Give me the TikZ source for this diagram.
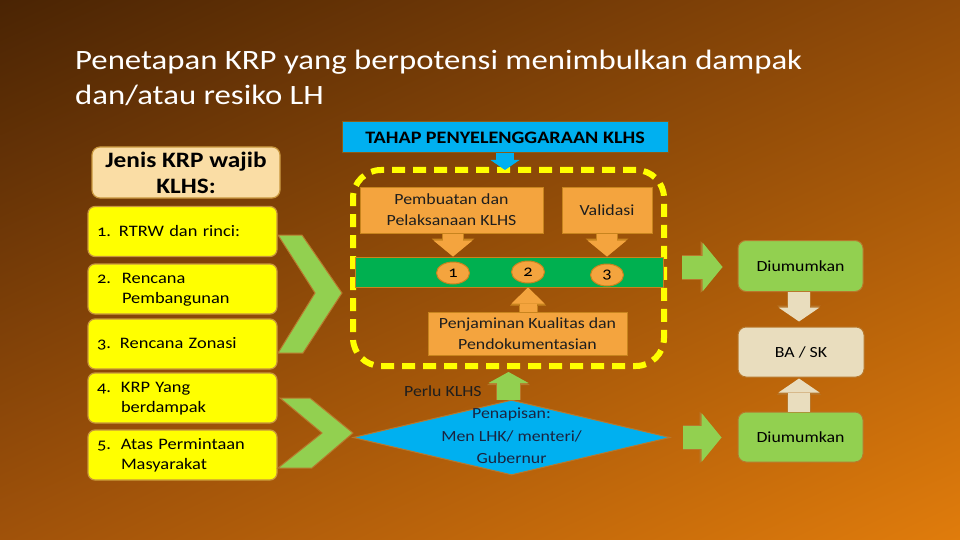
\documentclass[tikz,border=0pt]{standalone}
\usepackage{fontspec}
\setmainfont{Carlito}[FakeStretch=1.15, Numbers=OldStyle]
\newfontfamily\titlefont{Carlito}[FakeStretch=1.17]
\usetikzlibrary{arrows.meta,shapes.geometric,calc,shadings}
\definecolor{bgTL}{HTML}{4A2404}
\definecolor{bgTR}{HTML}{904A08}
\definecolor{bgBL}{HTML}{A0520A}
\definecolor{bgBR}{HTML}{E07C0C}
\definecolor{ylw}{HTML}{FFFF00}
\definecolor{ybord}{HTML}{C8963C}
\definecolor{chev}{HTML}{92D050}
\definecolor{chevb}{HTML}{B8782C}
\definecolor{orng}{HTML}{F4A43E}
\definecolor{orngb}{HTML}{C8841E}
\definecolor{band}{HTML}{00B050}
\definecolor{cyanb}{HTML}{00B0F0}
\definecolor{peach}{HTML}{FADDA5}
\definecolor{beige}{HTML}{E9DDBE}
\definecolor{txt}{HTML}{1E1E1E}
\definecolor{navy}{HTML}{1A2440}
\tikzset{
  ybox/.style={draw=ybord, fill=ylw, line width=1.2pt, rounded corners=7pt,
    minimum width=189pt, minimum height=50pt, text width=171pt, inner xsep=9pt,
    align=left, font=\fontsize{16}{20}\selectfont},
  obox/.style={draw=orngb, fill=orng, line width=1pt, text=txt,
    font=\fontsize{15.5}{21}\selectfont, align=center, inner sep=0pt},
  gbox/.style={draw=chevb, fill=chev, line width=1pt, rounded corners=8pt,
    minimum width=125pt, minimum height=51pt, text=black,
    font=\fontsize{15.5}{19}\selectfont},
  oell/.style={ellipse, draw=orngb, fill=orng, line width=1pt, minimum width=33pt,
    minimum height=22pt, inner sep=0pt, font=\fontsize{16}{18}\selectfont, text=black},
  chevshape/.style={fill=chev, draw=chevb, line width=1pt, line join=miter},
  orarrow/.style={preaction={draw=orngb, line width=22pt,
      -{Triangle[width=43pt,length=18pt,line width=0pt]}},
    draw=orng, line width=20pt, -{Triangle[width=39pt,length=16pt,line width=0pt]}},
  penarrow/.style={preaction={draw=orngb, line width=19pt,
      -{Triangle[width=36pt,length=18pt,line width=0pt]}},
    draw=orng, line width=17pt, -{Triangle[width=33pt,length=16pt,line width=0pt]}},
  blarrow/.style={draw=cyanb, line width=18pt,
    -{Triangle[width=29pt,length=10pt,line width=0pt]}},
  grarrow/.style={preaction={draw=chevb, line width=25pt,
      -{Triangle[width=52pt,length=22pt,line width=0pt]}},
    draw=chev, line width=23pt, -{Triangle[width=49pt,length=20pt,line width=0pt]}},
  upgarrow/.style={preaction={draw=chevb, line width=25pt,
      -{Triangle[width=43pt,length=13pt,line width=0pt]}},
    draw=chev, line width=23pt, -{Triangle[width=40pt,length=11pt,line width=0pt]}},
  bgarrow/.style={preaction={draw=chevb, line width=24pt,
      -{Triangle[width=44pt,length=16pt,line width=0pt]}},
    draw=beige, line width=22pt, -{Triangle[width=41pt,length=14pt,line width=0pt]}},
}
\begin{document}
\begin{tikzpicture}[x=1pt,y=-1pt]
\useasboundingbox (0,0) rectangle (960,540);
\shade[upper left=bgTL, upper right=bgTR, lower left=bgBL, lower right=bgBR]
  (0,0) rectangle (960,540);

% title
\node[anchor=base west, inner sep=0pt, text=white, font=\titlefont\fontsize{28}{35}\selectfont]
  (title1) at (75,70) {Penetapan KRP yang berpotensi menimbulkan dampak};
\node[anchor=base west, inner sep=0pt, text=white, font=\titlefont\fontsize{28}{35}\selectfont]
  (title2) at (75,105) {dan/atau resiko LH};

% left column
\node[draw=ybord, fill=peach, line width=1.2pt, rounded corners=8pt,
  minimum width=188pt, minimum height=51pt, inner sep=0pt, align=center,
  font=\bfseries\fontsize{22}{26}\selectfont] (jenis) at (186,172.5)
  {Jenis KRP wajib\\KLHS:};
\node[ybox] (k1) at (182.5,231.5) {\makebox[22pt][l]{1.}RTRW dan rinci:};
\node[ybox] (k2) at (182.5,289) {\begin{tabular}{@{}p{25pt}@{}l@{}}2.&Rencana\\&Pembangunan\end{tabular}};
\node[ybox] (k3) at (182.5,344) {\makebox[23pt][l]{3.}Rencana Zonasi};
\node[ybox] (k4) at (182.5,398) {\begin{tabular}{@{}p{24pt}@{}l@{}}4.&KRP Yang\\&berdampak\end{tabular}};
\node[ybox] (k5) at (182.5,455) {\begin{tabular}{@{}p{24pt}@{}l@{}}5.&Atas Permintaan\\&Masyarakat\end{tabular}};

% chevrons
\filldraw[chevshape] (278,235) -- (302,235) -- (342,293) -- (303,353) -- (278,353) -- (315,293) -- cycle;
\filldraw[chevshape] (280,398) -- (310,398) -- (353,433) -- (312,468) -- (278,468) -- (322,433) -- cycle;

% stage header and frame
\node[draw=orngb!70!black, fill=cyanb, line width=1pt, minimum width=326pt,
  minimum height=31pt, inner sep=0pt, text=black,
  font=\bfseries\fontsize{17.5}{19}\selectfont] (tahap) at (505,137.5)
  {TAHAP PENYELENGGARAAN KLHS};
\node[draw=ylw, line width=6pt, dash pattern=on 13pt off 8pt, rounded corners=28pt,
  minimum width=311pt, minimum height=196pt, inner sep=0pt, outer sep=0pt]
  (frame) at (508.5,268) {};
\draw[blarrow] (tahap.south) -- (tahap.south |- frame.north);

% inner boxes
\node[obox, minimum width=183pt, minimum height=46pt] (pemb) at (451.5,210)
  {Pembuatan dan\\Pelaksanaan KLHS};
\node[obox, minimum width=90pt, minimum height=46pt] (valid) at (607,210) {Validasi};
\node[draw=orngb, fill=band, line width=1pt, minimum width=308pt, minimum height=30pt,
  inner sep=0pt] (band) at (509,272) {};
\node[obox, minimum width=199pt, minimum height=43pt] (pen) at (527.5,333.5)
  {Penjaminan Kualitas dan\\Pendokumentasian};
\coordinate (ax1) at (453,0);
\coordinate (ax3) at (607,0);
\coordinate (ax2) at (528,0);
\draw[orarrow] (ax1 |- pemb.south) -- (ax1 |- band.north);
\draw[orarrow] (ax3 |- valid.south) -- (ax3 |- band.north);
\draw[penarrow] (ax2 |- pen.north) -- (ax2 |- band.south);
\node[oell] (c1) at (453,273) {1};
\node[oell] (c2) at (528,272) {2};
\node[oell] (c3) at (607,275) {3};

% screening diamond
\node[diamond, draw=chevb, fill=cyanb, line width=1pt, minimum width=317pt,
  minimum height=75pt, inner sep=0pt, aspect=4.2] (dia) at (511.5,437.5) {};
\node[text=navy, align=center, inner sep=0pt, font=\fontsize{15.5}{22.5}\selectfont]
  (diatext) at (511.5,436) {Penapisan:\\Men LHK/ menteri/\\Gubernur};
\draw[upgarrow, shorten >=6pt] ([xshift=-3pt]dia.north) -- ([xshift=-3pt]dia.north |- frame.south);
\node[anchor=west, inner sep=0pt, text=txt, font=\fontsize{15.5}{19}\selectfont]
  (perlu) at (404,391) {Perlu KLHS};

% right column
\node[gbox] (d1) at (800.5,266) {Diumumkan};
\node[gbox, fill=beige, minimum width=126pt, minimum height=50pt] (ba) at (801,352) {BA / SK};
\node[gbox, minimum height=50pt] (d2) at (800.5,437) {Diumumkan};
\coordinate (a1s) at (682,267);
\draw[grarrow, shorten >=15pt] (a1s) -- (a1s -| d1.west);
\draw[grarrow, shorten <=12pt, shorten >=16pt] (dia.east) -- (dia.east -| d2.west);
\draw[bgarrow, shorten >=5pt] ([xshift=-1.5pt]d1.south) -- ([xshift=-1.5pt]d1.south |- ba.north);
\draw[bgarrow, shorten >=1pt] ([xshift=-1.5pt]d2.north) -- ([xshift=-1.5pt]d2.north |- ba.south);
\end{tikzpicture}
\end{document}
